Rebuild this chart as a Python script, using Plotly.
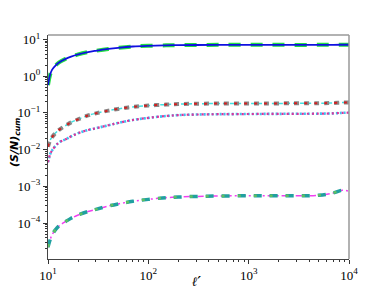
import plotly.graph_objects as go

ell = [10, 10.5, 11, 12, 13, 15, 17, 20, 25, 30, 40, 50, 70, 100, 150, 200, 300, 500, 1000, 2000, 5000, 7000, 8500, 10000]

sn_a = [0.57, 1.1, 1.5, 2.0, 2.4, 2.95, 3.4, 3.9, 4.5, 4.9, 5.5, 5.9, 6.4, 6.7, 6.9, 7.0, 7.05, 7.1, 7.1, 7.1, 7.1, 7.12, 7.15, 7.15]
sn_b = [0.012, 0.018, 0.022, 0.029, 0.035, 0.045, 0.055, 0.067, 0.085, 0.097, 0.115, 0.128, 0.145, 0.158, 0.168, 0.173, 0.177, 0.179, 0.18, 0.181, 0.183, 0.186, 0.19, 0.19]
sn_c = [0.0045, 0.0075, 0.0095, 0.013, 0.016, 0.019, 0.023, 0.028, 0.034, 0.038, 0.046, 0.053, 0.064, 0.073, 0.082, 0.087, 0.09, 0.092, 0.093, 0.094, 0.095, 0.097, 0.1, 0.101]
sn_d = [2.2e-5, 3.5e-5, 4.8e-5, 6.8e-5, 8.5e-5, 1.1e-4, 1.35e-4, 1.65e-4, 2.05e-4, 2.35e-4, 2.9e-4, 3.3e-4, 3.9e-4, 4.4e-4, 4.9e-4, 5.1e-4, 5.3e-4, 5.45e-4, 5.5e-4, 5.5e-4, 5.7e-4, 6.6e-4, 7.8e-4, 7.3e-4]

xtick_vals = [10, 100, 1000, 10000]
xtick_text = ["10<sup>1</sup>", "10<sup>2</sup>", "10<sup>3</sup>", "10<sup>4</sup>"]
ytick_vals = [1e-4, 1e-3, 1e-2, 1e-1, 1, 10]
ytick_text = ["10<sup>\u22124</sup>", "10<sup>\u22123</sup>", "10<sup>\u22122</sup>", "10<sup>\u22121</sup>", "10<sup>0</sup>", "10<sup>1</sup>"]

x_title = "<b><i>\u2113\u2032</i></b>"
y_title = "<b><i>(S/N)<sub>cum</sub></i></b>"

fig = go.Figure()

def add(y, color, width, dash):
    fig.add_trace(go.Scatter(x=ell, y=y, mode="lines", line=dict(color=color, width=width, dash=dash, shape="spline"),
                             showlegend=False, hoverinfo="skip"))

# group a
add(sn_a, "#22dd44", 4, "12px,10px")
add(sn_a, "#1010e0", 1.8, "solid")
# group b
add(sn_b, "#40e0e0", 1.5, "4px,3px")
add(sn_b, "#888888", 4, "5px,5px")
add(sn_b, "#d02020", 2, "3px,7px")
# group c
add(sn_c, "#40c0f0", 2.6, "2px,2px")
add(sn_c, "#e0309a", 2.2, "2px,3px")
# group d
add(sn_d, "#f040f0", 1.5, "6px,3px,2px,3px")
add(sn_d, "#20a0a0", 3.5, "8px,8px")
add(sn_d, "#60c060", 2.5, "3px,13px")

tickfont = dict(family="Liberation Serif", size=13, color="black")
fig.update_layout(
    width=380, height=283,
    margin=dict(l=40, r=39, t=27, b=32),
    paper_bgcolor="white", plot_bgcolor="white",
    xaxis=dict(type="log", range=[1, 4], tickvals=xtick_vals, ticktext=xtick_text, automargin=False,
               ticks="outside", ticklen=4, tickcolor="#333", showgrid=False, zeroline=False,
               showline=True, linecolor="#444", linewidth=1.2, tickfont=tickfont,
               minor=dict(ticks="outside", ticklen=2, tickcolor="#333", dtick="D1", showgrid=False)),
    yaxis=dict(type="log", range=[-4.98, 1.12], tickvals=ytick_vals, ticktext=ytick_text, automargin=False,
               ticks="outside", ticklen=4, tickcolor="#333", showgrid=False, zeroline=False,
               showline=True, linecolor="#444", linewidth=1.2, tickfont=tickfont,
               minor=dict(ticks="outside", ticklen=2, tickcolor="#333", dtick="D1", showgrid=False)),
    shapes=[
        dict(type="line", xref="paper", yref="paper", x0=0, x1=1, y0=1, y1=1, line=dict(color="#999", width=1.5)),
        dict(type="line", xref="paper", yref="paper", x0=1, x1=1, y0=0, y1=1, line=dict(color="#999", width=1.5)),
    ],
    annotations=[
        dict(text=y_title, xref="paper", yref="paper", x=0, y=0.5, xanchor="center", yanchor="middle",
             xshift=-33, yshift=4, textangle=-90, showarrow=False,
             font=dict(family="DejaVu Sans", size=11, color="black")),
        dict(text=x_title, xref="paper", yref="paper", x=0.495, y=0, xanchor="center", yanchor="middle",
             yshift=-22, showarrow=False,
             font=dict(family="DejaVu Serif", size=13, color="black")),
    ],
)

fig.write_html("out.html")
